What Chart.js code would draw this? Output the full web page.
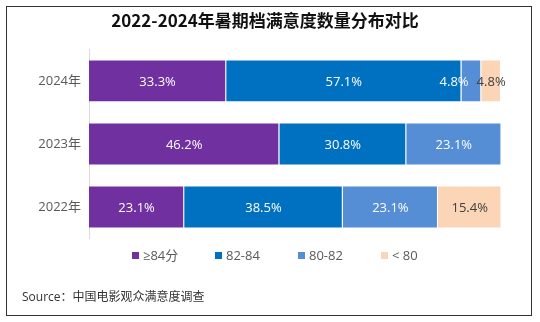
<!DOCTYPE html>
<html>
<head>
<meta charset="utf-8">
<script src="https://cdn.jsdelivr.net/npm/chart.js@4.4.1/dist/chart.umd.min.js"></script>
<style>
  body { margin: 0; background: #fff; }
  #wrap { position: relative; width: 540px; height: 322px; }
  #frame {
    position: absolute; left: 6px; top: 6px; width: 526px; height: 310px;
    box-sizing: border-box; border: 1.5px solid #333; pointer-events: none;
  }
</style>
</head>
<body>
<div id="wrap">
  <canvas id="myChart" width="540" height="322"></canvas>
  <div id="frame"></div>
</div>
<script>
"use strict";

// data
var years = ['2024年', '2023年', '2022年'];
var seriesNames = ['≥84分', '82-84', '80-82', '< 80'];
var over84 = [33.3, 46.2, 23.1];
var from82to84 = [57.1, 30.8, 38.5];
var from80to82 = [4.8, 23.1, 23.1];
var under80 = [4.8, null, 15.4];

var colors = ['#7030A0', '#0070C0', '#558ED5', '#FBD5B5'];
var labelColors = ['#ffffff', '#ffffff', '#ffffff', '#404040'];
var sourceText = 'Source：中国电影观众满意度调查';

var FONT = '"Open Sans", "Noto Sans CJK SC", sans-serif';

// value labels in the middle of each segment, pushed left if they collide
var barLabels = {
    id: 'barLabels',
    afterDatasetsDraw: function (chart) {
        var ctx = chart.ctx;
        ctx.save();
        ctx.font = '13px ' + FONT;
        ctx.textAlign = 'center';
        ctx.textBaseline = 'middle';
        chart.data.labels.forEach(function (lab, i) {
            var items = [];
            chart.data.datasets.forEach(function (ds, d) {
                var v = ds.data[i];
                if (v == null) return;
                var el = chart.getDatasetMeta(d).data[i];
                var text = v.toFixed(1) + '%';
                items.push({
                    x: (el.x + el.base) / 2,
                    y: el.y,
                    w: ctx.measureText(text).width,
                    text: text,
                    color: labelColors[d]
                });
            });
            for (var k = items.length - 2; k >= 0; k--) {
                var next = items[k + 1];
                var limit = next.x - next.w / 2 - 8;
                if (items[k].x + items[k].w / 2 > limit) {
                    items[k].x = limit - items[k].w / 2;
                }
            }
            items.forEach(function (it) {
                ctx.fillStyle = it.color;
                ctx.fillText(it.text, it.x, it.y + 1);
            });
        });
        ctx.restore();
    }
};

// legend row and source line under the bars
var footer = {
    id: 'footer',
    afterDraw: function (chart) {
        var ctx = chart.ctx;
        ctx.save();
        ctx.font = '13px ' + FONT;
        ctx.textBaseline = 'middle';
        ctx.textAlign = 'left';
        chart.data.datasets.forEach(function (ds, d) {
            var x = 132 + d * 83;
            ctx.fillStyle = ds.backgroundColor;
            ctx.fillRect(x, 252, 7, 7);
            ctx.fillStyle = '#595959';
            ctx.fillText(ds.label, x + 11, 256);
        });
        ctx.font = '12px ' + FONT;
        ctx.fillStyle = '#333333';
        ctx.fillText(sourceText, 22, 298);
        ctx.restore();
    }
};

var seriesData = [over84, from82to84, from80to82, under80];

var chart = new Chart(document.getElementById('myChart'), {
    type: 'bar',
    data: {
        labels: years,
        datasets: seriesData.map(function (vals, d) {
            return {
                label: seriesNames[d],
                data: vals,
                backgroundColor: colors[d],
                borderColor: 'rgba(255,255,255,0.7)',
                borderWidth: 1,
                categoryPercentage: 0.68,
                barPercentage: 1
            };
        })
    },
    options: {
        indexAxis: 'y',
        responsive: false,
        animation: false,
        layout: { padding: { left: 29, right: 39, top: 0, bottom: 83.5 } },
        plugins: {
            legend: { display: false },
            tooltip: { enabled: false },
            title: {
                display: true,
                text: '2022-2024年暑期档满意度数量分布对比',
                color: '#111111',
                font: { family: '"Noto Sans CJK SC", sans-serif', size: 17, weight: 'bold' },
                padding: { top: 10, bottom: 19 }
            }
        },
        scales: {
            x: {
                stacked: true,
                display: false,
                min: 0,
                max: 100
            },
            y: {
                stacked: true,
                grid: { display: false, drawTicks: false },
                border: { display: true, color: '#d9d9d9', width: 1 },
                ticks: {
                    color: '#595959',
                    padding: 8,
                    font: { family: FONT, size: 13 }
                },
                afterFit: function (scale) { scale.width = 60; }
            }
        }
    },
    plugins: [barLabels, footer]
});
</script>
</body>
</html>
